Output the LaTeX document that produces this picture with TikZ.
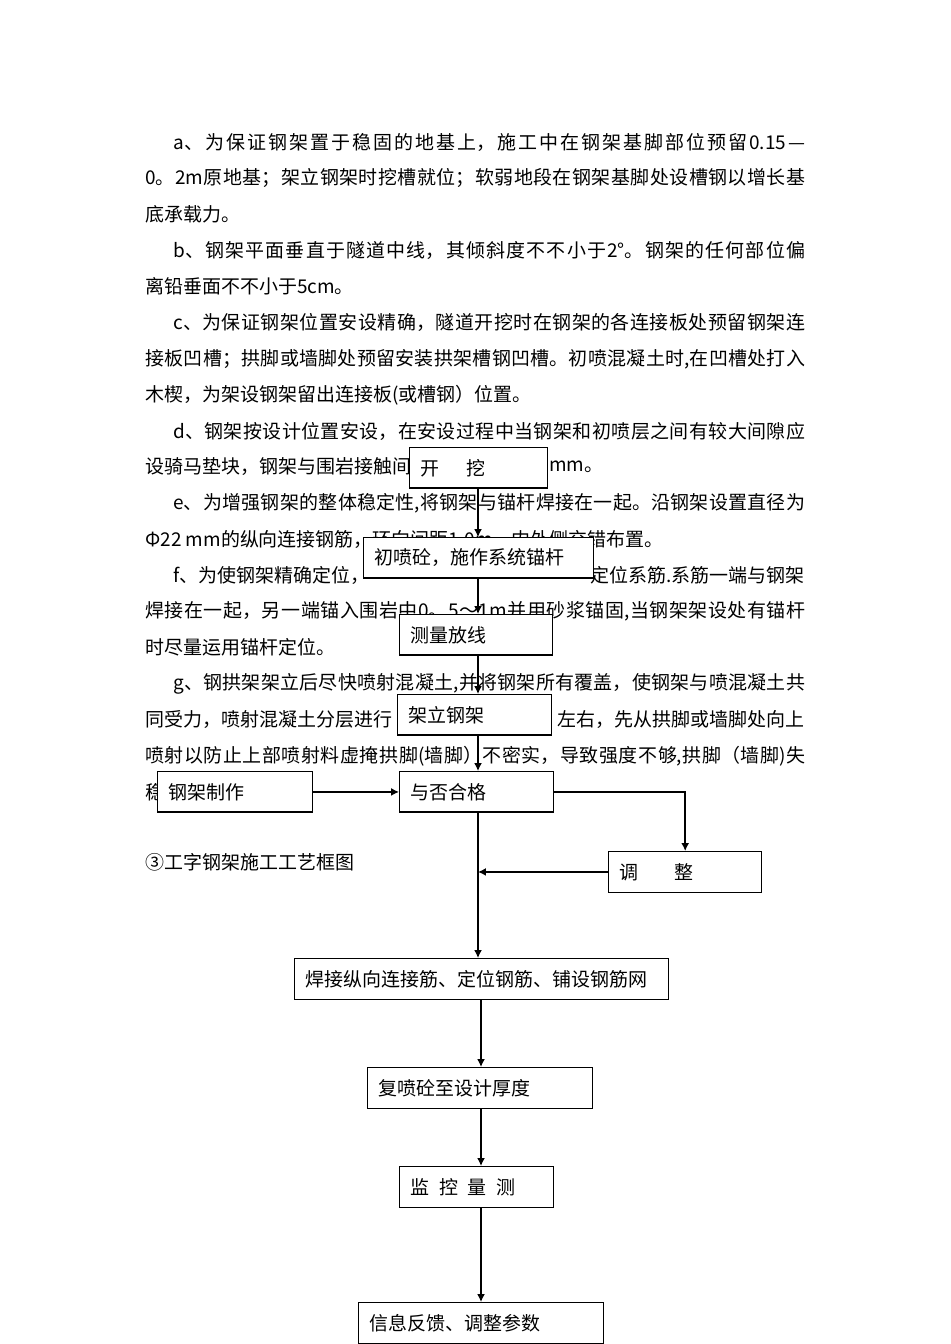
\documentclass[tikz,border=0pt]{standalone}
\usepackage{fontspec}
\setmainfont{Noto Sans CJK SC}
\usetikzlibrary{arrows.meta}
\XeTeXlinebreaklocale "zh"
\XeTeXlinebreakskip=0pt plus 3pt
\definecolor{black}{RGB}{0,0,0}
\definecolor{white}{RGB}{255,255,255}
\newcommand{\jline}[2]{\parbox{#1}{\parfillskip=0pt #2}}
\tikzset{
	flowbox/.style={draw=black,fill=white,line width=0.8pt,anchor=north west,inner xsep=0.22cm,inner ysep=0pt,minimum height=0.81cm,align=left},
	txt/.style={anchor=west,inner sep=0pt},
	flow/.style={black,line width=0.8pt,-{Latex[length=4.5pt,width=4.5pt]}}
}

\begin{document}
\begin{tikzpicture}[x=0.02cm,y=-0.02cm,font=\fontsize{10.8pt}{13pt}\selectfont]
	\useasboundingbox (0,0) rectangle (950,1344);
	% body text
	\node[txt] (l1) at (173,142) {\jline{12.64cm}{a、为保证钢架置于稳固的地基上，施工中在钢架基脚部位预留0.15—}};
	\node[txt] (l2) at (145,178) {\jline{13.2cm}{0。2m原地基；架立钢架时挖槽就位；软弱地段在钢架基脚处设槽钢以增长基}};
	\node[txt] (l3) at (145,214) {底承载力。};
	\node[txt] (l4) at (173,250) {\jline{12.64cm}{b、钢架平面垂直于隧道中线，其倾斜度不不小于2°。钢架的任何部位偏}};
	\node[txt] (l5) at (145,286) {离铅垂面不不小于5cm。};
	\node[txt] (l6) at (173,322) {\jline{12.64cm}{c、为保证钢架位置安设精确，隧道开挖时在钢架的各连接板处预留钢架连}};
	\node[txt] (l7) at (145,359) {\jline{13.2cm}{接板凹槽；拱脚或墙脚处预留安装拱架槽钢凹槽。初喷混凝土时,在凹槽处打入}};
	\node[txt] (l8) at (145,395) {木楔，为架设钢架留出连接板(或槽钢）位置。};
	\node[txt] (l9) at (173,431) {\jline{12.64cm}{d、钢架按设计位置安设，在安设过程中当钢架和初喷层之间有较大间隙应}};
	\node[txt] (l10) at (145,467) {设骑马垫块，钢架与围岩接触间};
	\node[txt] (l10b) at (549,467) {mm。};
	\node[txt] (l11) at (173,503) {\jline{12.64cm}{e、为增强钢架的整体稳定性,将钢架与锚杆焊接在一起。沿钢架设置直径为}};
	\node[txt] (l12) at (145,539) {Φ22 mm的纵向连接钢筋，环向间距1.0m，内外侧交错布置。};
	\node[txt] (l13) at (173,575) {f、为使钢架精确定位，};
	\node[txt,anchor=east] (l13b) at (805,575) {定位系筋.系筋一端与钢架};
	\node[txt] (l14) at (145,611) {\jline{13.2cm}{焊接在一起，另一端锚入围岩中0。5～1m并用砂浆锚固,当钢架架设处有锚杆}};
	\node[txt] (l15) at (145,647) {时尽量运用锚杆定位。};
	\node[txt] (l16) at (173,684) {\jline{12.64cm}{g、钢拱架架立后尽快喷射混凝土,并将钢架所有覆盖，使钢架与喷混凝土共}};
	\node[txt] (l17) at (145,720) {同受力，喷射混凝土分层进行};
	\node[txt,anchor=east] (l17b) at (805,720) {左右，先从拱脚或墙脚处向上};
	\node[txt] (l18) at (145,756) {\jline{13.2cm}{喷射以防止上部喷射料虚掩拱脚(墙脚）不密实，导致强度不够,拱脚（墙脚)失}};
	\node[txt] (l19) at (145,792) {稳};
	\node[txt] (title) at (145,862) {③工字钢架施工工艺框图};

	% flow chart
	\node[flowbox,text width=2.32cm] (dig) at (409,447) {开\hspace{1.4em}挖};
	\node[flowbox,text width=4.16cm] (spray) at (363,537) {初喷砼，施作系统锚杆};
	\node[flowbox,text width=2.62cm] (survey) at (399,614) {测量放线};
	\node[flowbox,text width=2.64cm] (erect) at (397,694) {架立钢架};
	\node[flowbox,text width=2.64cm] (check) at (399,771) {与否合格};
	\node[flowbox,text width=2.66cm] (make) at (157,771) {钢架制作};
	\node[flowbox,text width=2.62cm] (adjust) at (608,851) {调\hspace{1.9em}整};
	\node[flowbox,text width=7.04cm] (weld) at (294,958) {焊接纵向连接筋、定位钢筋、铺设钢筋网};
	\node[flowbox,text width=4.06cm] (respray) at (367,1067) {复喷砼至设计厚度};
	\node[flowbox,text width=2.64cm] (monitor) at (399,1166) {监\hspace{0.5em}控\hspace{0.5em}量\hspace{0.5em}测};
	\node[flowbox,text width=4.46cm] (feedback) at (358,1302) {信息反馈、调整参数};

	\coordinate (axis) at (478,0);
	\coordinate (axisb) at (481,0);
	\foreach \a/\b in {dig/spray,spray/survey,survey/erect,erect/check,check/weld}
		\draw[flow] (axis |- \a.south) -- (axis |- \b.north);
	\foreach \a/\b in {weld/respray,respray/monitor,monitor/feedback}
		\draw[flow] (axisb |- \a.south) -- (axisb |- \b.north);
	\draw[flow] (make.east) -- (check.west);
	\draw[flow] (check.east) -| (adjust.north);
	\draw[flow] (adjust.west) -- (axis |- adjust.west);
\end{tikzpicture}
\end{document}
